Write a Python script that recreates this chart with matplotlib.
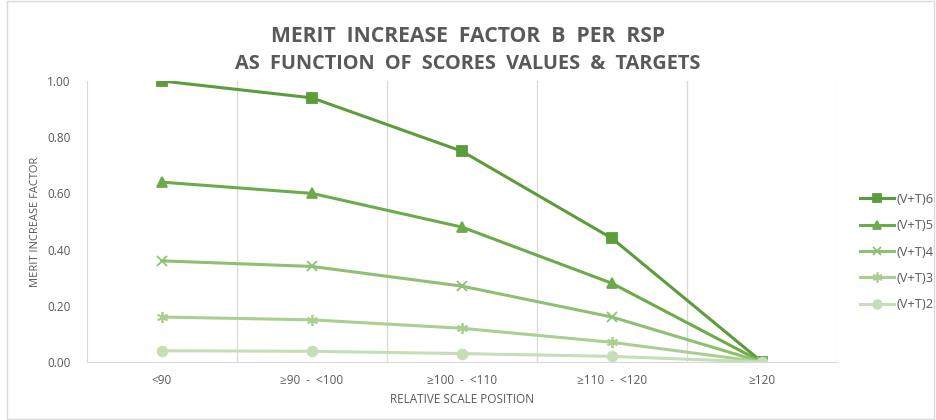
import matplotlib.pyplot as plt
from matplotlib.patches import Rectangle

categories = ['<90', '≥90  -  <100', '≥100  -  <110', '≥110  -  <120', '≥120']
series_names = ['(V+T)6', '(V+T)5', '(V+T)4', '(V+T)3', '(V+T)2']
vt6 = [1.00, 0.94, 0.75, 0.44, 0.00]
vt5 = [0.64, 0.60, 0.48, 0.28, 0.00]
vt4 = [0.36, 0.34, 0.27, 0.16, 0.00]
vt3 = [0.16, 0.15, 0.12, 0.07, 0.00]
vt2 = [0.04, 0.038, 0.03, 0.02, 0.00]
yticks = [0.0, 0.2, 0.4, 0.6, 0.8, 1.0]

colors = ['#5c9c3a', '#6daa4a', '#8fbf72', '#a9cf93', '#c6deb8']
markers = ['s', '^', 'x', (6, 2, 0), 'o']
msizes = [7, 7, 7, 8, 7]
gray = '#595959'

plt.rcParams['font.family'] = ['Open Sans', 'DejaVu Sans']

fig = plt.figure(figsize=(9.36, 4.2), dpi=100)
ax = fig.add_axes([87/936, 1 - 362/420, 750/936, 281/420])

x = list(range(len(categories)))
for vals, name, c, m, ms in zip([vt6, vt5, vt4, vt3, vt2], series_names, colors, markers, msizes):
    ax.plot(x, vals, color=c, lw=2.2, marker=m, markersize=ms,
            markeredgewidth=1.3, label=name)

ax.set_xlim(-0.5, len(categories) - 0.5)
ax.set_ylim(0, 1.0)
ax.set_yticks(yticks)
ax.set_yticklabels(['%.2f' % v for v in yticks])
ax.set_xticks(x)
ax.set_xticklabels(categories)
ax.set_xticks([i + 0.5 for i in x], minor=True)
ax.grid(which='minor', axis='x', color='#d9d9d9', lw=0.9)
ax.tick_params(which='both', length=0, colors=gray, labelsize=8.5)
ax.tick_params(axis='y', pad=12)
ax.tick_params(axis='x', pad=9)

for s in ['top', 'right']:
    ax.spines[s].set_visible(False)
ax.spines['left'].set_color('#d9d9d9')
ax.spines['bottom'].set_color('#d9d9d9')

ax.set_xlabel('RELATIVE SCALE POSITION', color=gray, fontsize=8.5, labelpad=4,
              family=['Liberation Sans Narrow', 'Open Sans', 'DejaVu Sans'])
ax.set_ylabel('MERIT INCREASE FACTOR', color=gray, fontsize=8, labelpad=4,
              family=['Liberation Sans Narrow', 'Open Sans', 'DejaVu Sans'])

fig.text(0.5, 1 - 37/420, 'MERIT  INCREASE  FACTOR  B  PER  RSP', ha='center', va='center',
         fontsize=15.2, fontweight='bold', color=gray)
fig.text(0.5, 1 - 64/420, 'AS  FUNCTION  OF  SCORES  VALUES  &  TARGETS', ha='center',
         va='center', fontsize=14.3, fontweight='bold', color=gray)

leg = ax.legend(loc='center left', bbox_to_anchor=(773/750, 0.391), frameon=False,
                prop={'family': ['Open Sans', 'DejaVu Sans'], 'size': 9.3},
                labelcolor=gray, handlelength=2.6, handletextpad=0.2,
                labelspacing=1.03, borderaxespad=0, borderpad=0, markerscale=0.9)

fig.patches.append(Rectangle((0.008, 0.003), 0.99, 0.994, transform=fig.transFigure,
                             fill=False, edgecolor='#d9d9d9', lw=1))

fig.savefig('out.png', dpi=100)
